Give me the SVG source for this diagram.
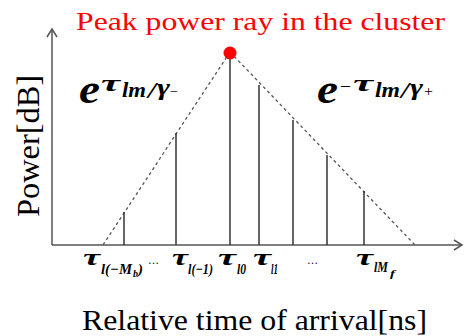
<svg xmlns="http://www.w3.org/2000/svg" width="464" height="336" viewBox="0 0 464 336">
<style>
.ax{stroke:#555;stroke-width:1.5;fill:none}
.ray{stroke:#333;stroke-width:1.5}
.env{stroke:#555;stroke-width:1.3;stroke-dasharray:3 3;fill:none}
text{font-family:"Liberation Serif","Times New Roman",serif;fill:#000}
.bi{font-weight:bold;font-style:italic}
.it{font-style:italic;font-weight:bold}
</style>
<rect width="464" height="336" fill="#fff"/>
<g id="axes">
<line class="ax" x1="52" y1="245" x2="52" y2="29"/>
<polyline class="ax" points="47,37 52,29 57,37"/>
<line class="ax" x1="52" y1="245" x2="462" y2="245"/>
<polyline class="ax" points="454,240 462,245 454,250"/>
</g>
<g id="connectors">
<line class="env" x1="230" y1="52" x2="103" y2="245"/>
<line class="env" x1="230" y1="52" x2="415" y2="245"/>
</g>
<g id="rays">
<line class="ray" x1="124" y1="212" x2="124" y2="245"/>
<line class="ray" x1="176" y1="133" x2="176" y2="245"/>
<line class="ray" x1="230" y1="52" x2="230" y2="245"/>
<line class="ray" x1="259" y1="85" x2="259" y2="245"/>
<line class="ray" x1="293" y1="120" x2="293" y2="245"/>
<line class="ray" x1="327" y1="155" x2="327" y2="245"/>
<line class="ray" x1="364" y1="191" x2="364" y2="245"/>
</g>
<g id="peak">
<circle cx="230" cy="53" r="6.5" fill="#f00"/>
<text x="76" y="30" font-size="26" textLength="369" lengthAdjust="spacingAndGlyphs" style="fill:#f00">Peak power ray in the cluster</text>
</g>
<g id="y-label">
<text font-size="32" transform="translate(39,217) rotate(-90)" textLength="142" lengthAdjust="spacingAndGlyphs">Power[dB]</text>
</g>
<g id="x-label">
<text x="82" y="330" font-size="30" textLength="345" lengthAdjust="spacingAndGlyphs">Relative time of arrival[ns]</text>
</g>
<g id="rise-formula">
<text class="bi" x="79" y="103" font-size="42" textLength="21" lengthAdjust="spacingAndGlyphs">e</text>
<text class="bi" x="101" y="91" font-size="23" textLength="19" lengthAdjust="spacingAndGlyphs">τ</text>
<text class="it" x="122" y="97" font-size="20" textLength="24" lengthAdjust="spacingAndGlyphs">lm</text>
<text class="it" x="148" y="98" font-size="23" textLength="8" lengthAdjust="spacingAndGlyphs">/</text>
<text class="bi" x="157" y="95" font-size="23" textLength="13" lengthAdjust="spacingAndGlyphs">γ</text>
<text x="170" y="96" font-size="14" textLength="8" lengthAdjust="spacingAndGlyphs">−</text>
</g>
<g id="decay-formula">
<text class="bi" x="317" y="103" font-size="42" textLength="21" lengthAdjust="spacingAndGlyphs">e</text>
<text x="340" y="93" font-size="20" textLength="11" lengthAdjust="spacingAndGlyphs">−</text>
<text class="bi" x="353" y="91" font-size="23" textLength="20" lengthAdjust="spacingAndGlyphs">τ</text>
<text class="it" x="375" y="97" font-size="20" textLength="25" lengthAdjust="spacingAndGlyphs">lm</text>
<text class="it" x="401" y="98" font-size="23" textLength="8" lengthAdjust="spacingAndGlyphs">/</text>
<text class="bi" x="410" y="95" font-size="23" textLength="13" lengthAdjust="spacingAndGlyphs">γ</text>
<text x="424" y="96" font-size="14" textLength="9" lengthAdjust="spacingAndGlyphs">+</text>
</g>
<g id="tick-labels">
<text class="bi" x="83" y="265" font-size="24" textLength="17" lengthAdjust="spacingAndGlyphs">τ</text>
<text class="it" x="101" y="274" font-size="15" textLength="31" lengthAdjust="spacingAndGlyphs">l(−M</text>
<text class="it" x="133" y="277" font-size="10" textLength="5" lengthAdjust="spacingAndGlyphs">b</text>
<text class="it" x="138" y="274" font-size="15" textLength="5" lengthAdjust="spacingAndGlyphs">)</text>
<text x="148" y="264" font-size="12" textLength="11" lengthAdjust="spacingAndGlyphs">…</text>
<text class="bi" x="172" y="265" font-size="24" textLength="16" lengthAdjust="spacingAndGlyphs">τ</text>
<text class="it" x="188" y="274" font-size="15" textLength="25" lengthAdjust="spacingAndGlyphs">l(−1)</text>
<text class="bi" x="218" y="265" font-size="24" textLength="18" lengthAdjust="spacingAndGlyphs">τ</text>
<text class="it" x="237" y="274" font-size="15" textLength="9" lengthAdjust="spacingAndGlyphs">l0</text>
<text class="bi" x="253" y="265" font-size="24" textLength="18" lengthAdjust="spacingAndGlyphs">τ</text>
<text class="it" x="271" y="274" font-size="15" textLength="7" lengthAdjust="spacingAndGlyphs">l1</text>
<text x="307" y="264" font-size="12" textLength="11" lengthAdjust="spacingAndGlyphs">…</text>
<text class="bi" x="356" y="265" font-size="24" textLength="17" lengthAdjust="spacingAndGlyphs">τ</text>
<text class="it" x="374" y="272" font-size="15" textLength="14" lengthAdjust="spacingAndGlyphs">lM</text>
<text class="it" x="390" y="277" font-size="10" textLength="5" lengthAdjust="spacingAndGlyphs">f</text>
</g>
</svg>
